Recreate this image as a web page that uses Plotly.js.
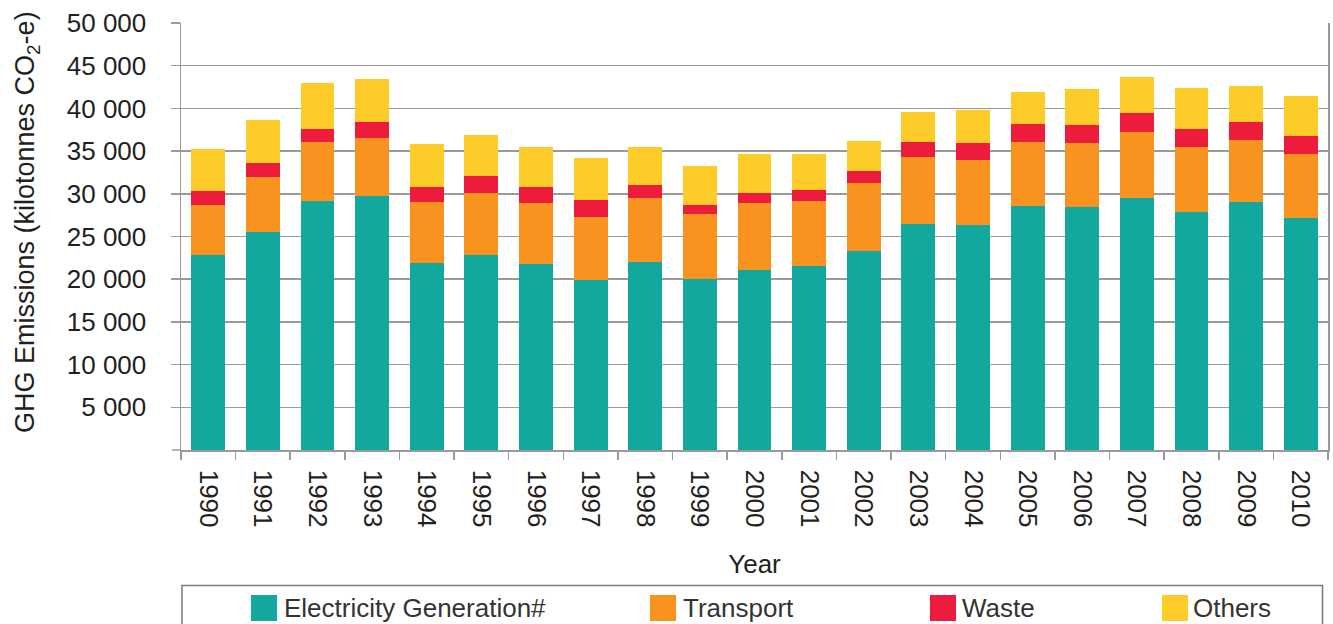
<!DOCTYPE html>
<html>
<head>
<meta charset="utf-8">
<script src="https://cdn.plot.ly/plotly-3.0.1.min.js"></script>
<style>html,body{margin:0;padding:0;background:#fff;}#chart{width:1333px;height:624px;}</style>
</head>
<body>
<div id="chart"></div>
<script>
const years = ['1990','1991','1992','1993','1994','1995','1996','1997','1998','1999','2000','2001','2002','2003','2004','2005','2006','2007','2008','2009','2010'];
const electricity = [22820,25500,29160,29720,21880,22820,21760,19890,21980,20010,21060,21530,23290,26450,26330,28560,28430,29480,27840,29010,27130];
const transport   = [5860,6440,6870,6820,7150,7260,7150,7390,7520,7620,7850,7630,7970,7850,7620,7500,7510,7760,7640,7290,7530];
const waste       = [1640,1660,1560,1870,1760,2000,1880,1990,1520,1050,1170,1280,1400,1760,1990,2110,2110,2220,2110,2110,2110];
const others      = [4920,5040,5390,5030,5040,4800,4690,4920,4460,4570,4580,4220,3520,3520,3870,3750,4220,4220,4800,4210,4680];
const seriesNames = ['Electricity Generation#','Transport','Waste','Others'];
const seriesColors = ['#12A89D','#F7931E','#EE1C3C','#FDCC28'];
const yTickVals = [5000,10000,15000,20000,25000,30000,35000,40000,45000,50000];
const yTickLabels = ['5 000','10 000','15 000','20 000','25 000','30 000','35 000','40 000','45 000','50 000'];
const xTitle = 'Year';
const yTitle = 'GHG Emissions (kilotonnes CO<sub>2</sub>-e)';

const W = 1333, H = 624;
const M = {l:181, r:5, t:23, b:174};
const PW = W - M.l - M.r, PH = H - M.t - M.b;
const px = x => (x - M.l) / PW;
const py = y => (H - M.b - y) / PH;

const FONT = 'Liberation Sans, Arial, Helvetica, sans-serif';
const TXT = '#231f20';
const GRID = '#9a9a9a';

const values = [electricity, transport, waste, others];
const traces = values.map((v, i) => ({
  type: 'bar', x: years, y: v, name: seriesNames[i],
  marker: {color: seriesColors[i], line: {width: 0}},
  showlegend: false
}));

// Legend drawn manually (box + swatches + labels)
const legendLeft = [251, 650, 930, 1162];
const legendTextLeft = [283, 682, 961, 1192];
const shapes = [{
  type: 'rect', xref: 'paper', yref: 'paper',
  x0: px(182), x1: px(1322.5), y0: py(585.5), y1: py(640),
  line: {color: '#7a7a7a', width: 1.5}, fillcolor: 'rgba(0,0,0,0)'
}, {
  // tick mark at zero on the value axis
  type: 'line', xref: 'paper', yref: 'paper',
  x0: px(172), x1: px(181), y0: 0, y1: 0,
  line: {color: GRID, width: 1.5}
}];
const annotations = [{
  xref: 'paper', yref: 'paper', x: px(27), y: py(222),
  xanchor: 'center', yanchor: 'middle', textangle: -90, showarrow: false,
  text: yTitle, font: {family: FONT, size: 27, color: TXT}
}];
seriesNames.forEach((n, i) => {
  shapes.push({
    type: 'rect', xref: 'paper', yref: 'paper',
    x0: px(legendLeft[i]), x1: px(legendLeft[i] + 26), y0: py(595), y1: py(621),
    line: {width: 0}, fillcolor: seriesColors[i]
  });
  annotations.push({
    xref: 'paper', yref: 'paper', x: px(legendTextLeft[i]), y: py(608),
    xanchor: 'left', yanchor: 'middle', showarrow: false, text: n,
    font: {family: FONT, size: 26, color: '#333'}, borderpad: 0
  });
});

const layout = {
  width: W, height: H,
  margin: M,
  paper_bgcolor: '#fff', plot_bgcolor: '#fff',
  barmode: 'stack', bargap: 0.38,
  font: {family: FONT, size: 26, color: TXT},
  showlegend: false,
  xaxis: {
    type: 'category', tickson: 'boundaries', ticks: 'outside', ticklen: 8,
    tickcolor: GRID, tickwidth: 1.5, tickangle: 90,
    showline: true, linecolor: GRID, linewidth: 1.5,
    showgrid: false, zeroline: false,
    tickfont: {family: FONT, size: 26, color: TXT},
    ticklabelstandoff: 13,
    title: {text: xTitle, font: {family: FONT, size: 26, color: TXT}, standoff: 28},
    automargin: false
  },
  yaxis: {
    range: [0, 50000], tickvals: yTickVals, ticktext: yTickLabels,
    ticks: 'outside', ticklen: 9, tickcolor: GRID, tickwidth: 1.5,
    showline: true, mirror: true, linecolor: GRID, linewidth: 1.5,
    showgrid: true, gridcolor: GRID, gridwidth: 1.5, zeroline: false,
    tickfont: {family: FONT, size: 26, color: TXT},
    ticklabelstandoff: 19,
    automargin: false
  },
  shapes: shapes,
  annotations: annotations
};

Plotly.newPlot('chart', traces, layout, {displayModeBar: false, staticPlot: true});
</script>
</body>
</html>
